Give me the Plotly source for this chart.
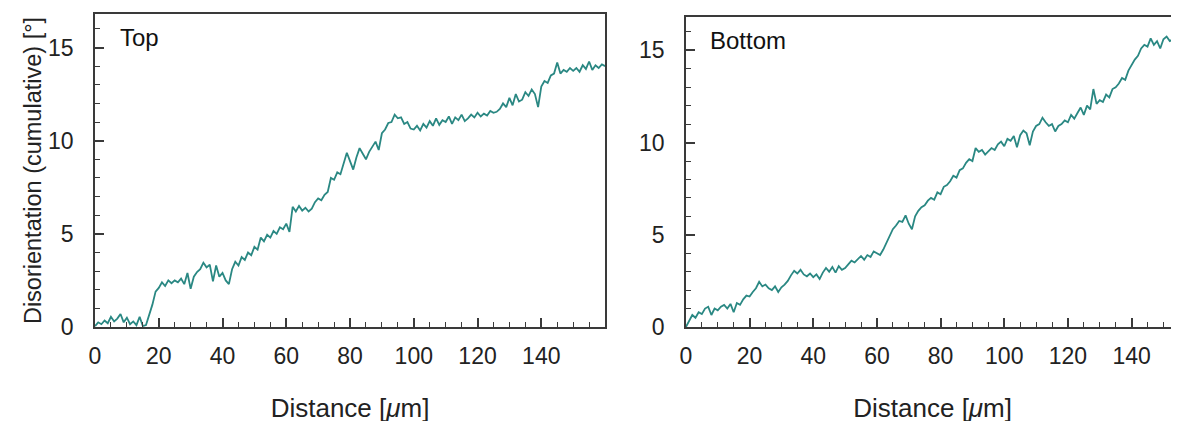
import plotly.graph_objects as go

# Distance [um] for each panel, 1 um steps
top_dist = list(range(0, 161))
bottom_dist = list(range(0, 156))

# Cumulative disorientation [deg]
top_dis = [
    0.05, 0.25, 0.15, 0.35, 0.2, 0.55, 0.3, 0.45, 0.7, 0.25,
    0.5, 0.15, 0.3, 0.1, 0.55, 0.05, 0.1, 0.6, 1.2, 1.9,
    2.1, 2.4, 2.2, 2.5, 2.35, 2.5, 2.4, 2.6, 2.3, 2.9,
    2.05, 2.7, 2.95, 3.1, 3.45, 3.2, 3.35, 2.45, 3.3, 2.7,
    2.9, 2.5, 2.3, 3.1, 3.5, 3.3, 3.75, 3.6, 4.0, 3.85,
    4.3, 4.15, 4.8, 4.6, 4.95, 4.8, 5.15, 5.0, 5.35, 5.25,
    5.55, 5.1, 6.45, 6.2, 6.5, 6.25, 6.4, 6.2, 6.35, 6.7,
    6.9, 6.8, 7.1, 7.25, 8.0, 7.9, 8.3, 8.2, 8.8, 9.35,
    8.9, 8.45, 9.1, 9.6, 9.3, 9.0, 9.4, 9.7, 9.95, 9.5,
    10.4, 10.6, 10.95, 11.0, 11.4, 11.2, 11.25, 10.9, 11.0, 10.65,
    10.6, 10.8, 10.55, 10.9, 10.7, 11.05, 10.8, 11.2, 10.85, 11.1,
    11.0, 11.3, 10.9, 11.25, 11.1, 11.4, 11.05, 11.2, 11.4, 11.25,
    11.5, 11.3, 11.45, 11.35, 11.6, 11.5, 11.55, 11.7, 12.0, 11.8,
    12.3, 11.9, 12.5, 12.1, 12.2, 12.6, 12.4, 12.75, 12.5, 11.8,
    12.9, 13.2, 13.1, 13.5, 13.6, 14.2, 13.6, 13.8, 13.7, 13.9,
    13.75, 13.9, 13.7, 14.05, 13.85, 14.25, 13.8, 14.05, 13.9, 14.1,
    14.0,
]

bottom_dis = [
    0.0, 0.3, 0.65, 0.5, 0.8, 0.7, 1.0, 1.1, 0.65, 1.0,
    0.9, 1.1, 1.2, 1.0, 1.25, 0.8, 1.3, 1.2, 1.5, 1.7,
    1.65, 1.9, 2.1, 2.45, 2.2, 2.3, 2.1, 2.0, 2.2, 1.9,
    2.15, 2.3, 2.5, 2.8, 3.05, 2.9, 3.1, 2.85, 2.75, 2.9,
    2.7, 2.85, 2.6, 2.95, 3.2, 3.0, 3.25, 2.95, 3.3, 3.1,
    3.2, 3.4, 3.6, 3.5, 3.7, 3.85, 3.65, 3.9, 3.8, 4.1,
    4.0, 3.9, 4.2, 4.6, 5.0, 5.3, 5.5, 5.75, 5.7, 6.05,
    5.6, 5.3, 6.0, 6.3, 6.5, 6.6, 6.85, 7.0, 6.9, 7.3,
    7.2, 7.6, 7.7, 7.9, 8.2, 8.1, 8.5, 8.6, 8.9, 9.1,
    9.0, 9.7, 9.5, 9.6, 9.35, 9.5, 9.7, 9.6, 9.9, 10.05,
    9.8, 10.2, 10.1, 10.35, 9.75, 10.4, 10.65, 10.5, 9.85, 10.6,
    10.9, 11.0, 11.35, 11.1, 10.9, 11.0, 10.6, 10.9, 11.0, 11.2,
    11.1, 11.5, 11.3, 11.6, 11.9, 11.5, 12.0, 11.8, 12.9, 12.1,
    12.3, 12.2, 12.6, 12.45, 12.9, 13.0, 13.2, 13.5, 13.4, 13.9,
    14.2, 14.5, 14.7, 15.1, 15.3, 15.2, 15.65, 15.3, 15.5, 15.1,
    15.6, 15.75, 15.5, 15.6, 15.3, 15.45,
]

x_ticks = [0, 20, 40, 60, 80, 100, 120, 140]
y_ticks = [0, 5, 10, 15]

line_color = '#2a8883'
axis_color = '#3a3a3a'
font_family = 'Liberation Sans, Arial, sans-serif'

fig = go.Figure()

fig.add_trace(go.Scatter(
    x=top_dist, y=top_dis, mode='lines',
    line=dict(color=line_color, width=1.8),
    xaxis='x', yaxis='y', showlegend=False
))
fig.add_trace(go.Scatter(
    x=bottom_dist, y=bottom_dis, mode='lines',
    line=dict(color=line_color, width=1.8),
    xaxis='x2', yaxis='y2', showlegend=False
))

# Ejes comunes
common_x = dict(
    tickmode='array', tickvals=x_ticks,
    ticks='inside', ticklen=9, tickwidth=1.5, tickcolor=axis_color,
    minor=dict(dtick=5, ticks='inside', ticklen=5, tickwidth=1.2, tickcolor=axis_color),
    showline=True, linecolor=axis_color, linewidth=1.6,
    showgrid=False, zeroline=False, automargin=False,
    tickfont=dict(size=23, color='#222', family=font_family),
    ticklabelstandoff=8,
    title=dict(text='Distance [<i>μ</i>m]', font=dict(size=26, color='#222', family=font_family),
               standoff=30),
)
common_y = dict(
    tickmode='array', tickvals=y_ticks,
    ticks='inside', ticklen=9, tickwidth=1.5, tickcolor=axis_color,
    minor=dict(dtick=1, ticks='inside', ticklen=5, tickwidth=1.2, tickcolor=axis_color),
    showline=True, linecolor=axis_color, linewidth=1.6,
    showgrid=False, zeroline=False, automargin=False,
    tickfont=dict(size=23, color='#222', family=font_family),
    ticklabelstandoff=15,
    range=[0, 16.8],
)

# la página añade 8 px de margen, se compensa en los dominios
fig.update_layout(
    width=1179, height=421,
    margin=dict(l=0, r=0, t=6, b=102),
    paper_bgcolor='white', plot_bgcolor='white',
    xaxis=dict(common_x, domain=[0.0738, 0.5064], range=[0, 160], mirror=True, anchor='y'),
    yaxis=dict(common_y, domain=[0, 1], mirror=True, anchor='x',
               title=dict(text='Disorientation (cumulative) [°]',
                          font=dict(size=23.5, color='#222', family=font_family), standoff=0)),
    xaxis2=dict(common_x, domain=[0.5750, 0.9935], range=[0, 155], mirror=True, anchor='y2'),
    yaxis2=dict(common_y, domain=[0, 0.99], mirror=False, anchor='x2'),
)

fig.add_annotation(x=0.045, y=0.975, xref='x domain', yref='y domain',
                   text='Top', showarrow=False, xanchor='left', yanchor='top',
                   font=dict(size=24, color='#111', family=font_family))
fig.add_annotation(x=0.045, y=0.975, xref='x2 domain', yref='y2 domain',
                   text='Bottom', showarrow=False, xanchor='left', yanchor='top',
                   font=dict(size=24, color='#111', family=font_family))

fig.write_html('out.html')
